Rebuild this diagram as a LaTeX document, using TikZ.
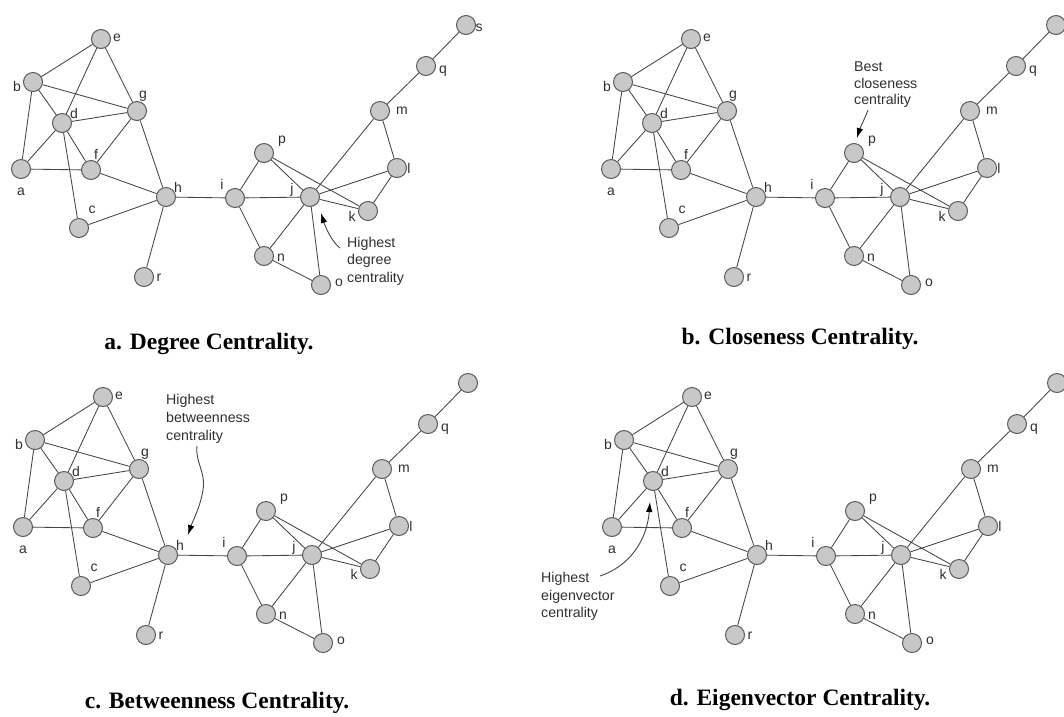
\documentclass[tikz,border=0pt]{standalone}
\usepackage{fontspec}
\setmainfont{Liberation Serif}
\newfontfamily\lblfont{Liberation Sans}
\usetikzlibrary{arrows.meta}
\definecolor{nodefill}{HTML}{C8C8C8}
\definecolor{nodeline}{HTML}{5A5A5A}
\definecolor{edgecol}{HTML}{454545}
\definecolor{lblcol}{HTML}{303030}
\tikzset{
  gn/.style={circle, fill=nodefill, draw=nodeline, line width=1pt, minimum size=19pt, inner sep=0pt},
  edge/.style={draw=edgecol, line width=0.85pt},
  lbl/.style={font=\lblfont\fontsize{14}{16}\selectfont, text=lblcol, inner sep=0pt},
  ann/.style={text=lblcol, inner sep=0pt, align=left},
  annarrow/.style={draw=edgecol, line width=0.9pt, -{Latex[length=10pt,width=6.5pt,color=black]}},
  paneltitle/.style={font=\bfseries\fontsize{23.5}{26}\selectfont, inner sep=0pt}
}
\newcommand\drawnet[1]{%
  \foreach \n/\x/\y/\lx/\ly in {e/101/39/16/1, b/33/82/-16/-4, g/137/111/6/15, d/62/123/12/10,
      a/21/169/0/-23, f/91/170/5/16, h/166/197/12/10, c/79/228/13/18, r/144/277/15/-1,
      i/235/198/-13/14, p/264/153/18/12, j/310/197/-18/7, k/368/211/-16/-5, l/397/168/12/0,
      m/380/111/22/0, q/426/66/17/-5, n/264/256/17/-2, o/321/285/18/2}{%
    \node[gn] (#1\n) at (\x,-\y) {};
    \node[lbl] (#1\n-l) at ({\x+\lx},{\ly-\y}) {\n};
  }
  \node[gn] (#1s) at (466,-25) {};
  \foreach \u/\v in {e/b, e/d, e/g, b/g, b/d, b/a, d/g, d/a, d/f, d/c, g/f, g/h, a/f, f/h,
      c/h, h/r, h/i, i/p, i/j, i/n, p/j, p/k, j/m, j/l, j/k, j/n, j/o, m/l, m/q, l/k, q/s, n/o}{%
    \draw[edge] (#1\u) -- (#1\v);
  }
}
\begin{document}
\begin{tikzpicture}[x=1pt, y=1pt]
  \fill[white] (0,0) rectangle (1064,-716);
  \useasboundingbox (0,0) rectangle (1064,-716);

  % panel a
  \begin{scope}
    \drawnet{A}
    \node[lbl] (As-l) at (479,-28) {s};
    \node[ann, font=\lblfont\fontsize{14.2}{17.5}\selectfont, anchor=north west] (Aann) at (347,-237) {Highest\\degree\\centrality};
    \coordinate (Aas) at (340,-248);
    \coordinate (Aat) at (321,-213);
    \draw[annarrow] (Aas) .. controls (333,-243) and (326,-229) .. (Aat);
  \end{scope}

  % panel b
  \begin{scope}[shift={(590,0)}]
    \drawnet{B}
  \end{scope}
  \node[ann, font=\lblfont\fontsize{14.2}{16.5}\selectfont, anchor=north west] (Bann) at (854,-62) {Best\\closeness\\centrality};
  \coordinate (Bas) at (868,-110);
  \coordinate (Bat) at (857,-138);
  \draw[annarrow] (Bas) .. controls (865,-118) and (860,-128) .. (Bat);

  % panel c
  \begin{scope}[shift={(2,-358)}]
    \drawnet{C}
  \end{scope}
  \node[ann, font=\lblfont\fontsize{14.2}{18}\selectfont, anchor=north west] (Cann) at (166,-394) {Highest\\betweenness\\centrality};
  \coordinate (Cas) at (197,-446);
  \coordinate (Cat) at (188,-535);
  \draw[annarrow] (Cas) .. controls (195,-462) and (206,-472) .. (203,-490)
                        .. controls (200,-508) and (193,-520) .. (Cat);

  % panel d
  \begin{scope}[shift={(591,-358)}]
    \drawnet{D}
  \end{scope}
  \node[ann, font=\lblfont\fontsize{14.2}{17.5}\selectfont, anchor=north west] (Dann) at (541,-572) {Highest\\eigenvector\\centrality};
  \coordinate (Das) at (600,-576);
  \coordinate (Dat) at (650,-502);
  \draw[annarrow] (Das) .. controls (630,-566) and (647,-540) .. (Dat);

  % titles
  \node[paneltitle] (Ta) at (209,-344) {a. Degree Centrality.};
  \node[paneltitle] (Tb) at (800,-339) {b. Closeness Centrality.};
  \node[paneltitle] (Tc) at (217,-703) {c. Betweenness Centrality.};
  \node[paneltitle] (Td) at (800,-700) {d. Eigenvector Centrality.};
\end{tikzpicture}
\end{document}
